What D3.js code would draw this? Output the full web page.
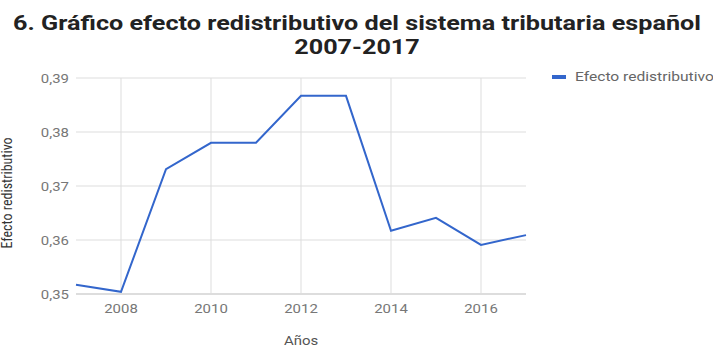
<!DOCTYPE html>
<html>
<head>
<meta charset="utf-8">
<script src="https://cdn.jsdelivr.net/npm/d3@7"></script>
<style>
  body { margin: 0; background: #fff; }
  text { font-family: Roboto, sans-serif; }
</style>
</head>
<body>
<script>
//data
const years  = [2007, 2008, 2009, 2010, 2011, 2012, 2013, 2014, 2015, 2016, 2017];
const values = [0.3517, 0.3504, 0.3731, 0.378, 0.378, 0.3867, 0.3867, 0.3617, 0.3641, 0.3591, 0.3609];
const xTicks = [2008, 2010, 2012, 2014, 2016];
const yTicks = [0.35, 0.36, 0.37, 0.38, 0.39];
const seriesName = 'Efecto redistributivo';

//dims
const width = 713, height = 347;
const sx = 1.15; // the reference text is a bit stretched sideways
const svg = d3.select('body').append('svg')
    .attr('width', width)
    .attr('height', height);

//scales
const x = d3.scaleLinear().domain([2007, 2017]).range([76, 526]);
const y = d3.scaleLinear().domain([0.35, 0.39]).range([294, 78]);

//helper: text placed by translate so it can be stretched
function label(g, tx, ty, str, size, fill, anchor, stretch) {
  return g.append('text')
      .attr('transform', `translate(${tx},${ty}) scale(${stretch || sx},1)`)
      .attr('text-anchor', anchor || 'start')
      .style('font-size', size + 'px')
      .attr('fill', fill)
      .text(str);
}

//title
label(svg, 357, 30, '6. Gráfico efecto redistributivo del sistema tributaria español', 20, '#222', 'middle', 1.26)
    .style('font-weight', 'bold');
label(svg, 357, 54, '2007-2017', 20, '#222', 'middle', 1.26)
    .style('font-weight', 'bold');

//grid
svg.append('g').selectAll('line')
    .data(yTicks)
  .enter().append('line')
    .attr('x1', x(2007)).attr('x2', x(2017))
    .attr('y1', d => y(d)).attr('y2', d => y(d))
    .attr('stroke', d => d === 0.35 ? '#bbb' : '#ddd');
svg.append('g').selectAll('line')
    .data(xTicks)
  .enter().append('line')
    .attr('x1', d => x(d)).attr('x2', d => x(d))
    .attr('y1', y(0.39)).attr('y2', y(0.35))
    .attr('stroke', '#ddd');

//tick labels
const fmt = d => d3.format('.2f')(d).replace('.', ',');
const yLab = svg.append('g');
yTicks.forEach(d => label(yLab, 69, y(d) + 5, fmt(d), 13, '#777', 'end'));
const xLab = svg.append('g');
xTicks.forEach(d => label(xLab, x(d), 313, d, 13, '#777', 'middle'));

//axis titles
label(svg, 301, 345, 'Años', 13, '#555', 'middle');
svg.append('text')
    .attr('transform', 'translate(12,193) rotate(-90)')
    .attr('text-anchor', 'middle')
    .style('font-size', '14px').style('font-stretch', 'condensed').attr('fill', '#333')
    .text(seriesName);

//line
svg.append('path')
    .datum(years.map((d, i) => [d, values[i]]))
    .attr('fill', 'none')
    .attr('stroke', '#3366cc')
    .attr('stroke-width', 2)
    .attr('d', d3.line().x(d => x(d[0])).y(d => y(d[1])));

//legend
svg.append('line')
    .attr('x1', 552).attr('x2', 566).attr('y1', 77).attr('y2', 77)
    .attr('stroke', '#3366cc').attr('stroke-width', 4);
label(svg, 575, 81, seriesName, 13, '#666', 'start', 1.2);
</script>
</body>
</html>
